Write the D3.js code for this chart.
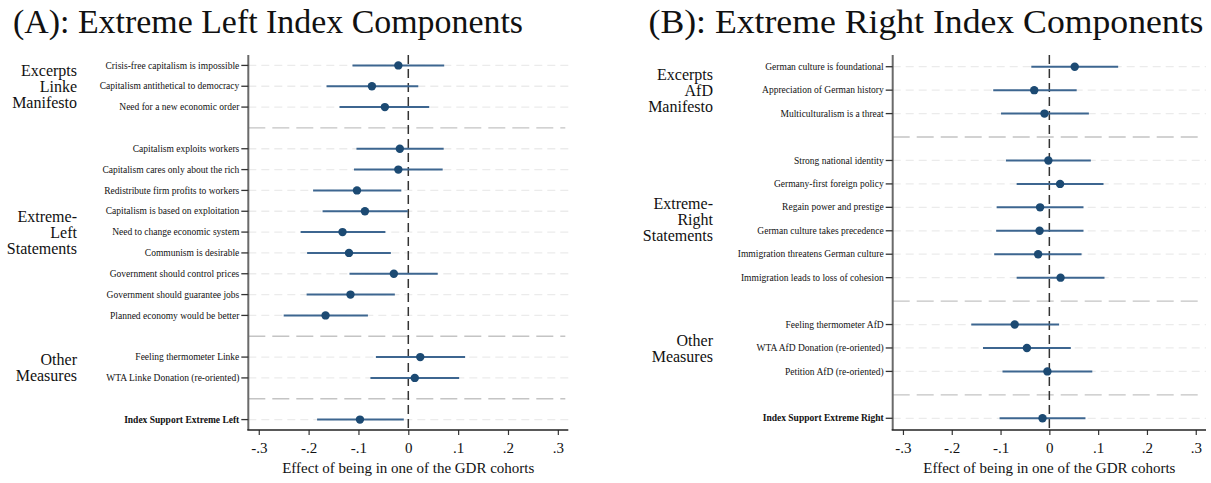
<!DOCTYPE html>
<html>
<head>
<meta charset="utf-8">
<script src="https://cdn.jsdelivr.net/npm/d3@7"></script>
<style>
    html, body { margin: 0; padding: 0; background: #fff; }
    svg { display: block; }
    svg text { font-family: "Liberation Serif", "Times New Roman", Times, "DejaVu Serif", serif; fill: #111; }
</style>
</head>
<body>
<div id="chart"></div>
<script>
// --- Data (null = separator slot between groups) ---
const leftLabels = [
    "Crisis-free capitalism is impossible", "Capitalism antithetical to democracy", "Need for a new economic order", null,
    "Capitalism exploits workers", "Capitalism cares only about the rich", "Redistribute firm profits to workers",
    "Capitalism is based on exploitation", "Need to change economic system", "Communism is desirable",
    "Government should control prices", "Government should guarantee jobs", "Planned economy would be better", null,
    "Feeling thermometer Linke", "WTA Linke Donation (re-oriented)", null,
    "Index Support Extreme Left"
];
const leftCoef = [-0.020, -0.073, -0.047, null, -0.017, -0.020, -0.103, -0.087, -0.132, -0.119, -0.029, -0.116, -0.166, null, 0.024, 0.013, null, -0.097];
const leftLo   = [-0.112, -0.164, -0.138, null, -0.104, -0.109, -0.191, -0.172, -0.216, -0.203, -0.118, -0.204, -0.250, null, -0.065, -0.076, null, -0.183];
const leftHi   = [0.072, 0.020, 0.042, null, 0.071, 0.069, -0.014, -0.001, -0.046, -0.035, 0.059, -0.027, -0.081, null, 0.114, 0.102, null, -0.009];
const leftGroupText = [["Excerpts", "Linke", "Manifesto"], ["Extreme-", "Left", "Statements"], ["Other", "Measures"]];
const leftGroupRows = [[0, 2], [4, 12], [14, 15]];

const rightLabels = [
    "German culture is foundational", "Appreciation of German history", "Multiculturalism is a threat", null,
    "Strong national identity", "Germany-first foreign policy", "Regain power and prestige",
    "German culture takes precedence", "Immigration threatens German culture", "Immigration leads to loss of cohesion", null,
    "Feeling thermometer AfD", "WTA AfD Donation (re-oriented)", "Petition AfD (re-oriented)", null,
    "Index Support Extreme Right"
];
const rightCoef = [0.052, -0.031, -0.010, null, -0.002, 0.022, -0.019, -0.020, -0.023, 0.023, null, -0.071, -0.046, -0.004, null, -0.014];
const rightLo   = [-0.037, -0.115, -0.099, null, -0.089, -0.067, -0.108, -0.109, -0.113, -0.067, null, -0.160, -0.136, -0.096, null, -0.102];
const rightHi   = [0.141, 0.056, 0.081, null, 0.085, 0.111, 0.070, 0.070, 0.066, 0.113, null, 0.020, 0.044, 0.088, null, 0.074];
const rightGroupText = [["Excerpts", "AfD", "Manifesto"], ["Extreme-", "Right", "Statements"], ["Other", "Measures"]];
const rightGroupRows = [[0, 2], [4, 9], [11, 13]];

const xTicks = [-0.3, -0.2, -0.1, 0, 0.1, 0.2, 0.3];
const xTickLabels = ["-.3", "-.2", "-.1", "0", ".1", ".2", ".3"];
const xTitle = "Effect of being in one of the GDR cohorts";

const width = 1211, height = 483;
const serif = "'Liberation Serif', 'Times New Roman', Times, 'DejaVu Serif', serif";

const svg = d3.select("#chart")
    .append("svg")
    .attr("width", width)
    .attr("height", height)
    .attr("font-family", serif);

function drawPanel(opts) {
    const { labels, coef, lo, hi, groupText, groupRows, title } = opts;
    const top = 55, bottom = 430;

    const x = d3.scaleLinear()
        .domain([-0.321, 0.321])
        .range([opts.x0, opts.x1]);

    const y = d3.scaleBand()
        .domain(d3.range(labels.length))
        .range([top, bottom]);
    const yc = (i) => y(i) + y.bandwidth() / 2;

    const g = svg.append("g");
    const rows = d3.range(labels.length).filter(i => labels[i] !== null);
    const seps = d3.range(labels.length).filter(i => labels[i] === null);

    // Title
    g.append("text")
        .attr("x", opts.titleX)
        .attr("y", 33)
        .attr("text-anchor", "middle")
        .attr("textLength", opts.titleW)
        .attr("lengthAdjust", "spacingAndGlyphs")
        .style("font-size", "34px")
        .style("font-family", serif)
        .text(title);

    // Light row grid lines
    g.selectAll(".grid")
        .data(rows)
        .enter()
        .append("line")
        .attr("x1", opts.x0)
        .attr("x2", opts.x1)
        .attr("y1", yc)
        .attr("y2", yc)
        .attr("stroke", "#ebebeb")
        .attr("stroke-width", 1.3)
        .attr("stroke-dasharray", "8,5");

    // Group separators
    g.selectAll(".sep")
        .data(seps)
        .enter()
        .append("line")
        .attr("x1", opts.x0)
        .attr("x2", opts.x1 - 3)
        .attr("y1", yc)
        .attr("y2", yc)
        .attr("stroke", "#c4c4c4")
        .attr("stroke-width", 1.4)
        .attr("stroke-dasharray", "17,7");

    // Zero reference line
    g.append("line")
        .attr("x1", x(0))
        .attr("x2", x(0))
        .attr("y1", top)
        .attr("y2", bottom)
        .attr("stroke", "#333")
        .attr("stroke-width", 1.5)
        .attr("stroke-dasharray", "9,5");

    // Confidence intervals
    g.selectAll(".ci")
        .data(rows)
        .enter()
        .append("line")
        .attr("x1", i => x(lo[i]))
        .attr("x2", i => x(hi[i]))
        .attr("y1", yc)
        .attr("y2", yc)
        .attr("stroke", "#3d6690")
        .attr("stroke-width", 2);

    // Point estimates
    g.selectAll(".dot")
        .data(rows)
        .enter()
        .append("circle")
        .attr("cx", i => x(coef[i]))
        .attr("cy", yc)
        .attr("r", 4.2)
        .attr("fill", "#1c4a73");

    // Y axis (row labels)
    const yAxis = g.append("g")
        .attr("transform", `translate(${opts.x0},0)`);
    yAxis.append("line")
        .attr("y1", top)
        .attr("y2", bottom)
        .attr("stroke", "#6a6a6a")
        .attr("stroke-width", 2);
    yAxis.selectAll(".tick")
        .data(rows)
        .enter()
        .append("line")
        .attr("x1", -7)
        .attr("x2", 0)
        .attr("y1", yc)
        .attr("y2", yc)
        .attr("stroke", "#333")
        .attr("stroke-width", 1.3);
    yAxis.selectAll(".lab")
        .data(rows)
        .enter()
        .append("text")
        .attr("x", -9)
        .attr("y", yc)
        .attr("dy", "0.33em")
        .attr("text-anchor", "end")
        .style("font-size", "9.5px")
        .style("font-family", serif)
        .style("font-weight", i => i === labels.length - 1 ? "bold" : "normal")
        .text(i => labels[i]);

    // Group labels
    groupText.forEach((lines, k) => {
        const mid = (yc(groupRows[k][0]) + yc(groupRows[k][1])) / 2;
        const lh = 16;
        const t = g.append("text")
            .attr("text-anchor", "end")
            .style("font-size", "16px")
            .style("font-family", serif);
        lines.forEach((s, j) => {
            t.append("tspan")
                .attr("x", opts.groupX)
                .attr("y", mid + (j - (lines.length - 1) / 2) * lh)
                .attr("dy", "0.35em")
                .text(s);
        });
    });

    // X axis
    const xAxis = g.append("g")
        .attr("transform", `translate(0,${bottom})`)
        .call(d3.axisBottom(x)
            .tickValues(xTicks)
            .tickSize(5)
            .tickFormat((d, i) => xTickLabels[i]));
    xAxis.attr("font-family", serif);
    xAxis.select(".domain").remove();
    xAxis.append("line")
        .attr("x1", opts.x0 - 1)
        .attr("x2", opts.x1)
        .attr("stroke", "#222")
        .attr("stroke-width", 1.5);
    xAxis.selectAll(".tick line").attr("stroke", "#333").attr("stroke-width", 1.2);
    xAxis.selectAll(".tick text")
        .attr("y", 12)
        .style("font-size", "15px")
        .style("font-family", serif)
        .attr("fill", "#111");

    g.append("text")
        .attr("x", x(0))
        .attr("y", 473)
        .attr("text-anchor", "middle")
        .style("font-size", "15px")
        .style("font-family", serif)
        .text(xTitle);
}

drawPanel({
    labels: leftLabels, coef: leftCoef, lo: leftLo, hi: leftHi,
    groupText: leftGroupText, groupRows: leftGroupRows,
    title: "(A): Extreme Left Index Components",
    x0: 248.3, x1: 568.3, groupX: 77, titleX: 268, titleW: 510
});

drawPanel({
    labels: rightLabels, coef: rightCoef, lo: rightLo, hi: rightHi,
    groupText: rightGroupText, groupRows: rightGroupRows,
    title: "(B): Extreme Right Index Components",
    x0: 892.7, x1: 1206, groupX: 713, titleX: 926, titleW: 555
});
</script>
</body>
</html>
